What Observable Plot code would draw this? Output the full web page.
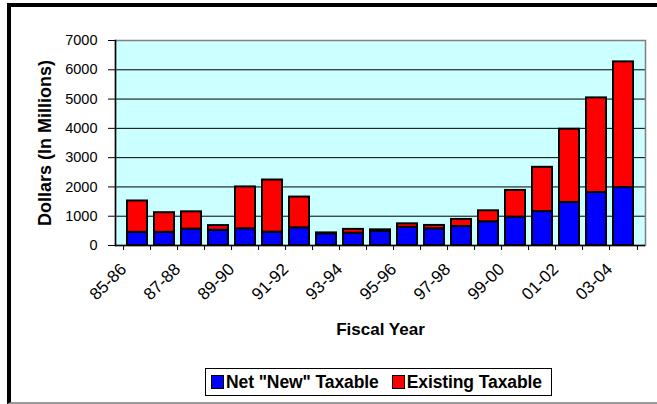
<!DOCTYPE html>
<html>
<head>
<meta charset="utf-8">
<script src="https://cdn.jsdelivr.net/npm/d3@7"></script>
<script src="https://cdn.jsdelivr.net/npm/@observablehq/plot@0.6"></script>
<style>
  html, body { margin: 0; padding: 0; width: 657px; height: 404px; overflow: hidden; background: #fff; font-family: "Liberation Sans", Arial, sans-serif; }
  #wrap { position: relative; width: 657px; height: 404px; }
  #frame { position: absolute; left: 7px; top: 3px; width: 700px; height: 395px; border-left: 4px solid #000; border-top: 4px solid #000; border-bottom: 2px solid #9a9a9a; pointer-events: none; }
  #chart { position: absolute; left: 0; top: 0; }
  #chart g[aria-label="y-axis tick label"] { font-size: 14.5px; }
  #chart g[aria-label="x-axis tick label"] { font-size: 17px; }
  #legend { position: absolute; left: 205px; top: 368px; width: 345px; height: 26px; border: 1px solid #000; background: #fff; display: flex; align-items: center; font-weight: bold; font-size: 17.5px; color: #000; letter-spacing: -0.1px; }
  .item { display: flex; align-items: center; margin-left: 5px; margin-right: 8px; }
  .sw { width: 11px; height: 12px; border: 1px solid #000; margin-right: 2px; }
</style>
</head>
<body>
<div id="wrap">
  <div id="frame"></div>
  <div id="chart"></div>
  <div id="legend"></div>
</div>
<script>
const years = ["85-86","86-87","87-88","88-89","89-90","90-91","91-92","92-93","93-94","94-95","95-96","96-97","97-98","98-99","99-00","00-01","01-02","02-03","03-04"];
const netNew = [450,450,560,520,570,456,604,400,420,490,620,570,650,810,970,1160,1470,1810,1980];
const existing = [1070,670,590,160,1430,1780,1050,30,130,45,120,115,240,375,910,1510,2500,3230,4290];
const seriesNames = ["Net \"New\" Taxable", "Existing Taxable"];
const seriesColors = ["#0000FF", "#FF0000"];
const yTicks = [0,1000,2000,3000,4000,5000,6000,7000];
const xLabelTicks = years.filter((d, i) => i % 2 === 0);

const rows = [];
years.forEach((y, i) => {
  rows.push({year: y, series: seriesNames[0], value: netNew[i]});
  rows.push({year: y, series: seriesNames[1], value: existing[i]});
});

const W = 657, H = 404, mL = 115, mR = 12, mT = 40, mB = 159;
const step = (W - mL - mR) / years.length;
const font = "'Liberation Sans', Arial, sans-serif";

const chart = Plot.plot({
  width: W, height: H,
  marginLeft: mL, marginRight: mR, marginTop: mT, marginBottom: mB,
  style: {fontFamily: font, background: "transparent", color: "#000"},
  x: {domain: years, paddingInner: 0.25, paddingOuter: 0.125, axis: null},
  y: {domain: [0, 7000], axis: null},
  color: {domain: seriesNames, range: seriesColors},
  marks: [
    Plot.frame({fill: "#CCFFFF", stroke: null}),
    Plot.ruleY(yTicks.slice(1), {stroke: "#000", strokeWidth: 1}),
    Plot.frame({stroke: "#808080", strokeWidth: 1.5}),
    Plot.barY(rows, {x: "year", y: "value", fill: "series", stroke: "#000", strokeWidth: 2, order: seriesNames}),
    Plot.frame({anchor: "left", stroke: "#000", strokeWidth: 1.5}),
    Plot.ruleY([0], {stroke: "#000", strokeWidth: 1.5}),
    Plot.axisY({ticks: yTicks, tickSize: 7, tickPadding: 11, tickFormat: d => String(d), label: null}),
    Plot.axisX({ticks: years, tickSize: 5, text: null, dx: -step / 2, label: null}),
    Plot.axisX({ticks: [years[years.length - 1]], tickSize: 5, text: null, dx: step / 2, label: null}),
    Plot.axisX({ticks: xLabelTicks, tickSize: 0, tickRotate: -45, tickPadding: 21, dx: -14, label: null}),
    Plot.text(["Dollars (In Millions)"], {frameAnchor: "left", dx: -70, rotate: -90, textAnchor: "middle", fontWeight: "bold", fontSize: 18, fill: "#000"}),
    Plot.text(["Fiscal Year"], {frameAnchor: "bottom", dy: 89, fontWeight: "bold", fontSize: 17, fill: "#000"})
  ]
});
document.getElementById("chart").appendChild(chart);

const legend = document.getElementById("legend");
seriesNames.forEach((name, i) => {
  const it = document.createElement("div");
  it.className = "item";
  const sw = document.createElement("div");
  sw.className = "sw";
  sw.style.background = seriesColors[i];
  const tx = document.createElement("span");
  tx.textContent = name;
  it.appendChild(sw);
  it.appendChild(tx);
  legend.appendChild(it);
});
</script>
</body>
</html>
